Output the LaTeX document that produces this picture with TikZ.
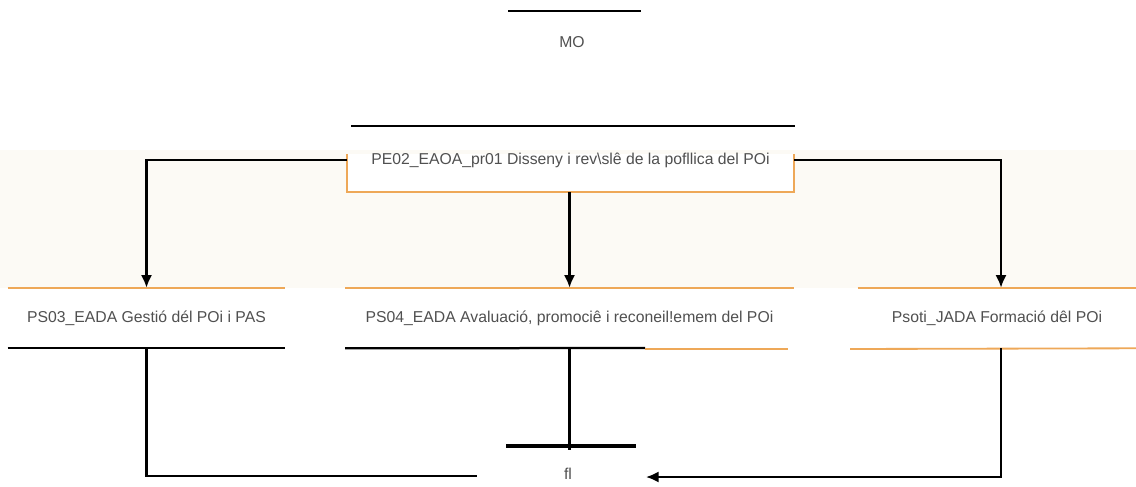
\documentclass[tikz,border=0pt]{standalone}
\usepackage{fontspec}
\setmainfont{Liberation Sans}
\usepackage{tikz}
\usetikzlibrary{arrows.meta}
\definecolor{boxorange}{RGB}{238,168,88}
\definecolor{paleband}{RGB}{252,250,245}
\definecolor{txtgray}{RGB}{80,80,80}
\tikzset{>={Latex[length=9pt,width=8pt]}}
\tikzset{
  lbl/.style={text=txtgray, font=\fontsize{11.2}{13}\selectfont, inner sep=0pt},
  proc/.style={lbl, minimum height=1.5cm},
  conn/.style={line width=1.6pt},
  edge/.style={boxorange, line width=1.3pt}
}

\begin{document}
\begin{tikzpicture}[x=0.025cm, y=-0.025cm]
      \useasboundingbox (0,0) rectangle (1136,486);
      \fill[paleband] (0,150) rectangle (1136,288);
      % top part
      \draw[conn] (508,11) -- (641,11);
      \node (mo) at (572,42) [lbl] {MO};
      \draw[conn] (351,126) -- (795,126);
      \fill[white] (347,154) rectangle (794,192);
      \node (pe) at (570.5,160) [lbl, minimum width=11.175cm] {PE02\_EAOA\_pr01 Disseny i rev\textbackslash slê de la pofllica del POi};
      \draw[edge, line width=0.9pt] (347,154) -- (347,192) -- (794,192) -- (794,154);
      \coordinate (pebot) at (569.5,192);
      % second row
      \node (ps3) at (146.5,318) [proc, minimum width=6.925cm] {};
      \node (ps4) at (569.5,318) [proc, minimum width=11.2cm] {};
      \node (ps5) at (997,318) [proc, minimum width=6.95cm] {};
      \fill[white] (ps3.north west) rectangle (ps3.south east);
      \fill[white] (ps4.north west) rectangle (ps4.south east);
      \fill[white] (ps5.north west) rectangle (ps5.south east);
      \node (t3) at (ps3) [lbl] {PS03\_EADA Gestió dél POi i PAS};
      \node (t4) at (ps4) [lbl] {PS04\_EADA Avaluació, promociê i reconeil!emem del POi};
      \node (t5) at (ps5) [lbl] {Psoti\_JADA Formació dêl POi};
      \draw[edge] (ps3.north west) -- (ps3.north east);
      \draw[edge] (ps4.north west) -- (ps4.north east);
      \draw[edge] (ps5.north west) -- (ps5.north east);
      \draw[conn] (ps3.south west) -- (ps3.south east);
      \draw[conn] (ps4.south west) -- (645,348);
      \draw[edge] (645,349) -- (788,349);
      \draw[edge] (850,349) -- (ps5.south east);
      % arrows from the top process
      \draw[conn, ->] (pe.west) -| (ps3.north);
      \draw[conn, ->] (pe.east) -| ([xshift=0.1cm]ps5.north);
      \draw[conn, ->] (pebot) -- (ps4.north);
      % bottom part
      \node (fl) at (568,474) [lbl] {fl};
      \coordinate (bar) at (569.5,446);
      \draw[line width=2.8pt] (506,446) -- (636,446);
      \draw[conn] (ps4.south) -- ([yshift=-0.1cm]bar);
      \coordinate (lend) at (477,476);
      \draw[conn] (ps3.south) |- (lend);
      \coordinate (rend) at (646,477);
      \draw[conn, ->] ([xshift=0.1cm]ps5.south) |- (rend);
\end{tikzpicture}
\end{document}
